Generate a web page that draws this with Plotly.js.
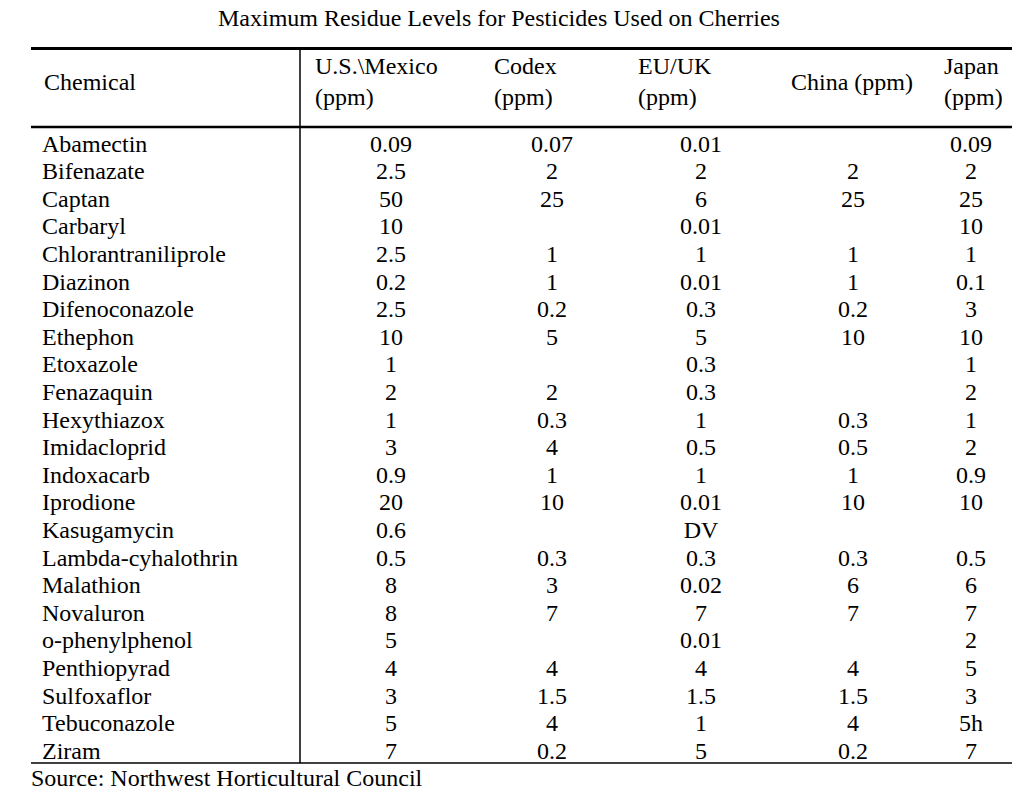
<!DOCTYPE html>
<html>
<head>
<meta charset="utf-8">
<script src="https://cdn.plot.ly/plotly-3.0.1.min.js"></script>
<style>html,body{margin:0;padding:0;background:#fff;}#chart{width:1028px;height:795px;}</style>
</head>
<body>
<div id="chart"></div>
<script>
const chartTitle = "Maximum Residue Levels for Pesticides Used on Cherries";
const sourceNote = "Source: Northwest Horticultural Council";
const columnHeaders = ["Chemical", "U.S.\\Mexico<br>(ppm)", "Codex<br>(ppm)", "EU/UK<br>(ppm)", "China (ppm)", "Japan<br>(ppm)"];

const chemicals = ["Abamectin","Bifenazate","Captan","Carbaryl","Chlorantraniliprole","Diazinon","Difenoconazole","Ethephon","Etoxazole","Fenazaquin","Hexythiazox","Imidacloprid","Indoxacarb","Iprodione","Kasugamycin","Lambda-cyhalothrin","Malathion","Novaluron","o-phenylphenol","Penthiopyrad","Sulfoxaflor","Tebuconazole","Ziram"];
const usMexico = ["0.09","2.5","50","10","2.5","0.2","2.5","10","1","2","1","3","0.9","20","0.6","0.5","8","8","5","4","3","5","7"];
const codex = ["0.07","2","25","","1","1","0.2","5","","2","0.3","4","1","10","","0.3","3","7","","4","1.5","4","0.2"];
const euUk = ["0.01","2","6","0.01","1","0.01","0.3","5","0.3","0.3","1","0.5","1","0.01","DV","0.3","0.02","7","0.01","4","1.5","1","5"];
const china = ["","2","25","","1","1","0.2","10","","","0.3","0.5","1","10","","0.3","6","7","","4","1.5","4","0.2"];
const japan = ["0.09","2","25","10","1","0.1","3","10","1","2","1","2","0.9","10","","0.5","6","7","2","5","3","5h","7"];

const W = 1028, H = 795;
const FONT = 'Liberation Serif, Times New Roman, Times, serif';
const rowTop = 145.5, rowStep = 27.6;
const rowIdx = chemicals.map((_, i) => i);

const valueCols = [
  {vals: usMexico, x: 391},
  {vals: codex, x: 552},
  {vals: euUk, x: 701},
  {vals: china, x: 853},
  {vals: japan, x: 971}
];
const headerPos = [
  {x: 42, y: 82}, {x: 313, y: 82}, {x: 492, y: 82},
  {x: 636, y: 82}, {x: 789, y: 82}, {x: 942, y: 82}
];

const textFont = {family: FONT, size: 24, color: '#000'};

const traces = [{
  type: 'scatter', mode: 'text',
  x: chemicals.map(() => 42), y: rowIdx,
  text: chemicals, textposition: 'middle right',
  textfont: textFont, hoverinfo: 'skip', showlegend: false, cliponaxis: false
}];
valueCols.forEach(c => {
  traces.push({
    type: 'scatter', mode: 'text',
    x: c.vals.map(() => c.x), y: rowIdx,
    text: c.vals, textposition: 'middle center',
    textfont: textFont, hoverinfo: 'skip', showlegend: false, cliponaxis: false
  });
});

const px = v => v / W;
const py = v => 1 - v / H;

const shapes = [
  {type: 'line', xref: 'paper', yref: 'paper', x0: px(31), x1: px(1012), y0: py(48.5), y1: py(48.5), line: {color: '#000', width: 3}},
  {type: 'line', xref: 'paper', yref: 'paper', x0: px(31), x1: px(1012), y0: py(127), y1: py(127), line: {color: '#000', width: 2.5}},
  {type: 'line', xref: 'paper', yref: 'paper', x0: px(300), x1: px(300), y0: py(49), y1: py(763), line: {color: '#000', width: 1.5}},
  {type: 'line', xref: 'paper', yref: 'paper', x0: px(31), x1: px(1012), y0: py(763), y1: py(763), line: {color: '#000', width: 1.5}}
];

const annotations = columnHeaders.map((t, i) => ({
  text: t, xref: 'paper', yref: 'paper', x: px(headerPos[i].x), y: py(headerPos[i].y),
  xanchor: 'left', yanchor: 'middle', align: 'left', showarrow: false,
  font: textFont
}));
annotations.push({
  text: sourceNote, xref: 'paper', yref: 'paper', x: px(29), y: py(778),
  xanchor: 'left', yanchor: 'middle', align: 'left', showarrow: false,
  font: {family: FONT, size: 24, color: '#000'}
});
annotations.push({
  text: chartTitle, xref: 'paper', yref: 'paper', x: px(499), y: py(18),
  xanchor: 'center', yanchor: 'middle', showarrow: false,
  font: {family: FONT, size: 24, color: '#000'}
});

const layout = {
  width: W, height: H,
  margin: {l: 0, r: 0, t: 0, b: 0, pad: 0},
  paper_bgcolor: '#fff', plot_bgcolor: '#fff',
  font: {family: FONT},
  xaxis: {range: [0, W], visible: false, fixedrange: true},
  yaxis: {range: [(H - rowTop) / rowStep, -rowTop / rowStep], visible: false, fixedrange: true},
  shapes: shapes,
  annotations: annotations,
  showlegend: false
};

Plotly.newPlot('chart', traces, layout, {staticPlot: true, displayModeBar: false});
</script>
</body>
</html>
